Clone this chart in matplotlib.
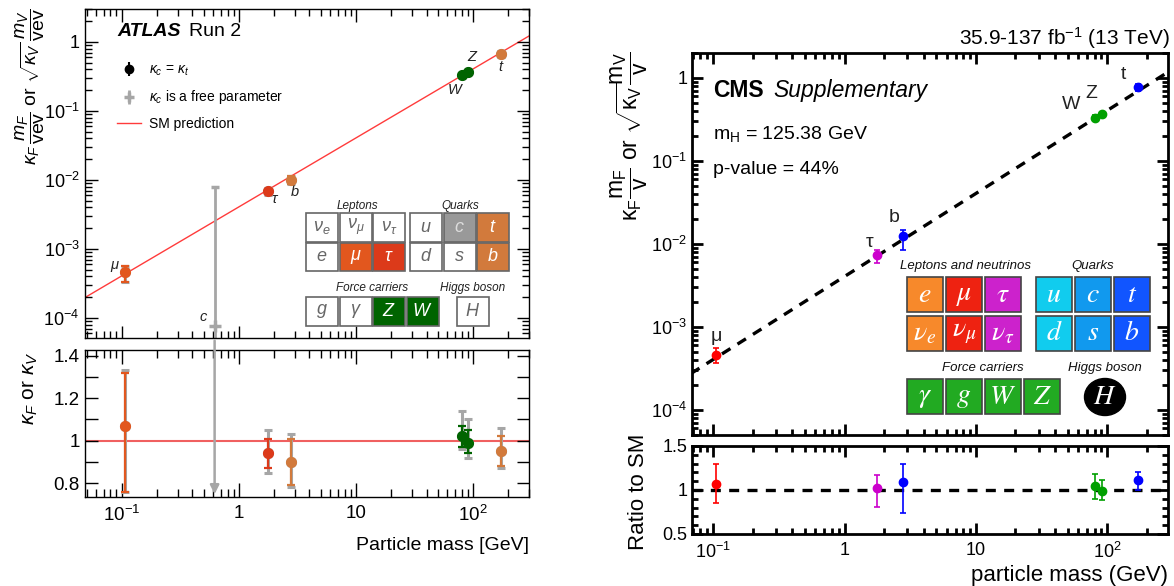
import numpy as np
import matplotlib
matplotlib.use('Agg')
import matplotlib.pyplot as plt
from matplotlib.patches import Rectangle, Ellipse
from matplotlib.ticker import FixedLocator, FixedFormatter, LogLocator, NullFormatter, MultipleLocator, FuncFormatter

plt.rcParams['font.family'] = ['Liberation Sans', 'DejaVu Sans']
plt.rcParams['mathtext.fontset'] = 'custom'
plt.rcParams['mathtext.rm'] = 'Liberation Sans'
plt.rcParams['mathtext.it'] = 'Liberation Sans:italic'
plt.rcParams['mathtext.bf'] = 'Liberation Sans:bold'

VEV = 246.22

# ---- ATLAS data (kappa_c = kappa_t fit, and kappa_c free fit) ----
atlas_mass = [0.1057, 1.777, 2.76, 80.38, 91.19, 172.5]
atlas_kappa = [1.07, 0.94, 0.90, 1.02, 0.99, 0.95]
atlas_lo = [0.76, 0.87, 0.79, 0.97, 0.94, 0.88]
atlas_hi = [1.32, 1.01, 1.01, 1.07, 1.05, 1.02]
atlas_free_lo = [0.76, 0.85, 0.78, 0.96, 0.92, 0.87]
atlas_free_hi = [1.33, 1.05, 1.03, 1.14, 1.10, 1.06]
atlas_vector = [False, False, False, True, True, False]
atlas_colors = ['#e2571e', '#dc3a1a', '#d27a3c', '#006400', '#006400', '#d27a3c']
atlas_names = [r'$\mu$', r'$\tau$', '$b$', '$W$', '$Z$', '$t$']
atlas_name_offset = [(-10, 6), (7, -8), (4, -12), (-7, -15), (4, 15), (0, -13)]
# charm quark, only in the free-parameter fit
c_mass = 0.62
c_val = 7.5e-5
c_lo = 1e-5
c_hi = 7.8e-3

# ---- CMS data ----
cms_mass = [0.1057, 1.777, 2.8, 80.38, 91.19, 172.5]
cms_ratio = [1.07, 1.02, 1.09, 1.04, 0.99, 1.11]
cms_lo = [0.85, 0.81, 0.74, 0.895, 0.89, 1.00]
cms_hi = [1.29, 1.17, 1.29, 1.18, 1.11, 1.21]
cms_vector = [False, False, False, True, True, False]
cms_colors = ['#ff0000', '#cc00cc', '#0000ff', '#00a000', '#00a000', '#0000ff']
cms_names = ['μ', 'τ', 'b', 'W', 'Z', 't']
cms_name_offset = [(0, 19), (-8, 13), (-9, 19), (-24, 13), (-11, 20), (-15, 13)]


def coupling(mass, k, vector):
    # reduced coupling shown in the upper panels
    m = np.array(mass)
    k = np.array(k)
    v = np.array(vector)
    return np.where(v, np.sqrt(k), k) * m / VEV


W, H = 1174, 586
fig = plt.figure(figsize=(W / 100, H / 100), dpi=100)


def px_axes(x0, y0, x1, y1):
    return fig.add_axes([x0 / W, 1 - y1 / H, (x1 - x0) / W, (y1 - y0) / H])


def style_x(ax, labels, fs, major, minor, lw):
    ax.set_xscale('log')
    ax.xaxis.set_major_locator(FixedLocator([0.1, 1, 10, 100]))
    ax.xaxis.set_minor_locator(LogLocator(base=10, subs=np.arange(2, 10), numticks=30))
    ax.xaxis.set_minor_formatter(NullFormatter())
    if labels:
        ax.xaxis.set_major_formatter(FixedFormatter(['$10^{-1}$', '1', '10', '$10^{2}$']))
    else:
        ax.xaxis.set_major_formatter(NullFormatter())
    ax.tick_params(which='both', direction='in', top=True, right=True, labelsize=fs, width=lw)
    ax.tick_params(which='major', length=major)
    ax.tick_params(which='minor', length=minor)
    ax.tick_params(axis='x', pad=6)
    for s in ax.spines.values():
        s.set_linewidth(lw)


def style_logy(ax):
    ax.set_yscale('log')
    ax.yaxis.set_major_locator(FixedLocator([1e-4, 1e-3, 1e-2, 1e-1, 1]))
    ax.yaxis.set_major_formatter(FixedFormatter(['$10^{-4}$', '$10^{-3}$', '$10^{-2}$', '$10^{-1}$', '1']))
    ax.yaxis.set_minor_locator(LogLocator(base=10, subs=np.arange(2, 10), numticks=30))
    ax.yaxis.set_minor_formatter(NullFormatter())


gfmt = FuncFormatter(lambda v, p: '%g' % round(v, 2))

# ================= ATLAS =================
ax_a = px_axes(84.5, 9, 529, 338)
ax_ar = px_axes(84.5, 349.6, 529, 497)
grey = '#a6a6a6'
xl_a = (0.048, 300)

sm_x = np.array([0.03, 500])
ax_a.plot(sm_x, sm_x / VEV, color='#ff3b3b', lw=1.0, zorder=1)

y_a = coupling(atlas_mass, atlas_kappa, atlas_vector)
y_a_lo = coupling(atlas_mass, atlas_lo, atlas_vector)
y_a_hi = coupling(atlas_mass, atlas_hi, atlas_vector)
y_af_lo = coupling(atlas_mass, atlas_free_lo, atlas_vector)
y_af_hi = coupling(atlas_mass, atlas_free_hi, atlas_vector)

for i in range(len(atlas_mass)):
    ax_a.errorbar([atlas_mass[i]], [y_a[i]], yerr=[[y_a[i] - y_af_lo[i]], [y_af_hi[i] - y_a[i]]],
                  fmt='o', color=grey, ms=7, lw=2.2, capsize=3, capthick=2.2, zorder=2)
    ax_a.errorbar([atlas_mass[i]], [y_a[i]], yerr=[[y_a[i] - y_a_lo[i]], [y_a_hi[i] - y_a[i]]],
                  fmt='o', color=atlas_colors[i], ms=7, lw=1.6, capsize=3, capthick=1.6, zorder=3)
    ax_a.annotate(atlas_names[i], (atlas_mass[i], y_a[i]), xytext=atlas_name_offset[i],
                  textcoords='offset pixels', ha='center', va='center', fontsize=10.5, color='#222222')

ax_a.errorbar([c_mass], [c_val], yerr=[[c_val - c_lo], [c_hi - c_val]], fmt='+', color=grey,
              ms=8, mew=2.5, lw=2, capsize=3, capthick=2, zorder=2)
ax_a.annotate('$c$', (c_mass, c_val), xytext=(-11, 9), textcoords='offset pixels',
              ha='center', va='center', fontsize=10.5, color='#222222')

style_x(ax_a, False, 13, 9, 5, 1.0)
style_logy(ax_a)
ax_a.set_xlim(*xl_a)
ax_a.set_ylim(5.1e-5, 3.0)

# legend
h1 = ax_a.errorbar([], [], yerr=[], fmt='o', color='black', ms=6, lw=1.5, capsize=3, capthick=1.5)
h2 = ax_a.errorbar([], [], yerr=[], fmt='+', color=grey, ms=7, mew=2.5, lw=2, capsize=3, capthick=2)
h3, = ax_a.plot([], [], color='#ff3b3b', lw=1.0)
ax_a.legend([h1, h2, h3], [r'$\kappa_c\,=\,\kappa_t$', r'$\kappa_c$ is a free parameter', 'SM prediction'],
            loc='upper left', bbox_to_anchor=(0.045, 0.875), frameon=False, fontsize=10,
            handlelength=1.7, labelspacing=0.75, handletextpad=0.6)

# ratio panel
ax_ar.axhline(1.0, color='#f06060', lw=1.5, zorder=1)
k_a = np.array(atlas_kappa)
for i in range(len(atlas_mass)):
    ax_ar.errorbar([atlas_mass[i]], [k_a[i]], yerr=[[k_a[i] - atlas_free_lo[i]], [atlas_free_hi[i] - k_a[i]]],
                   fmt='o', color=grey, ms=7, lw=2.2, capsize=3, capthick=2.2, zorder=2)
    ax_ar.errorbar([atlas_mass[i]], [k_a[i]], yerr=[[k_a[i] - atlas_lo[i]], [atlas_hi[i] - k_a[i]]],
                   fmt='o', color=atlas_colors[i], ms=7, lw=1.6, capsize=3, capthick=1.6, zorder=3)
ax_ar.annotate('', xy=(c_mass, 0.0), xycoords=('data', 'axes fraction'),
               xytext=(c_mass, 1.08), textcoords=('data', 'axes fraction'),
               arrowprops=dict(arrowstyle='-|>', color=grey, lw=1.8, mutation_scale=13),
               annotation_clip=False)
style_x(ax_ar, True, 13.5, 10, 5.5, 1.0)
ax_ar.set_xlim(*xl_a)
ax_ar.set_ylim(0.735, 1.428)
ax_ar.yaxis.set_major_locator(MultipleLocator(0.2))
ax_ar.yaxis.set_minor_locator(MultipleLocator(0.1))
ax_ar.yaxis.set_major_formatter(gfmt)
ax_ar.tick_params(axis='y', which='both', length=9)
ax_ar.set_xlabel('Particle mass [GeV]', fontsize=14, ha='right', x=1.0, labelpad=8)

fig.text(30 / W, 1 - 8 / H,
         r'$\kappa_F\,\dfrac{m_F}{\mathrm{vev}}$ or $\sqrt{\kappa_V}\,\dfrac{m_V}{\mathrm{vev}}$',
         rotation=90, ha='center', va='top', fontsize=14)
fig.text(30 / W, 1 - 352 / H, r'$\kappa_F$ or $\kappa_V$', rotation=90, ha='center', va='top', fontsize=15)

# ================= CMS =================
ax_c = px_axes(692, 53, 1168, 435)
ax_cr = px_axes(692, 446, 1168, 534)
xl_c = (0.069, 290)

ax_c.plot(sm_x, sm_x / VEV, color='black', lw=2.4, ls=(0, (3, 2.5)), zorder=1)
y_c = coupling(cms_mass, cms_ratio, cms_vector)
y_c_lo = coupling(cms_mass, cms_lo, cms_vector)
y_c_hi = coupling(cms_mass, cms_hi, cms_vector)
for i in range(len(cms_mass)):
    ax_c.errorbar([cms_mass[i]], [y_c[i]], yerr=[[y_c[i] - y_c_lo[i]], [y_c_hi[i] - y_c[i]]],
                  fmt='o', color=cms_colors[i], ms=6, lw=1.2, capsize=2.5, capthick=1.2, zorder=3)
    ax_c.annotate(cms_names[i], (cms_mass[i], y_c[i]), xytext=cms_name_offset[i],
                  textcoords='offset pixels', ha='center', va='center', fontsize=14, color='#222222')
style_x(ax_c, False, 13, 8, 4, 2.0)
style_logy(ax_c)
ax_c.set_xlim(*xl_c)
ax_c.set_ylim(5e-5, 2.0)

ax_cr.axhline(1.0, color='black', lw=2.4, ls=(0, (3, 2.5)), zorder=1)
for i in range(len(cms_mass)):
    ax_cr.errorbar([cms_mass[i]], [cms_ratio[i]], yerr=[[cms_ratio[i] - cms_lo[i]], [cms_hi[i] - cms_ratio[i]]],
                   fmt='o', color=cms_colors[i], ms=6, lw=1.2, capsize=2.5, capthick=1.2, zorder=3)
style_x(ax_cr, True, 13, 8, 4, 2.0)
ax_cr.set_xlim(*xl_c)
ax_cr.set_ylim(0.5, 1.5)
ax_cr.yaxis.set_major_locator(MultipleLocator(0.5))
ax_cr.yaxis.set_minor_locator(MultipleLocator(0.1))
ax_cr.yaxis.set_major_formatter(gfmt)
ax_cr.set_xlabel('particle mass (GeV)', fontsize=16, ha='right', x=1.0, labelpad=2)

fig.text(629 / W, 1 - 52 / H,
         r'$\mathrm{\kappa_F\dfrac{m_F}{v}}$ or $\mathrm{\sqrt{\kappa_V}\dfrac{m_V}{v}}$',
         rotation=90, ha='center', va='top', fontsize=16.5)
fig.text(638 / W, 1 - 492 / H, 'Ratio to SM', rotation=90, ha='center', va='center', fontsize=16)

# ================= overlay: texts and particle tables (figure pixels) =================
ov = fig.add_axes([0, 0, 1, 1], zorder=5)
ov.set_xlim(0, W)
ov.set_ylim(H, 0)
ov.axis('off')

ov.text(117, 36, 'ATLAS', fontsize=14, fontweight='bold', style='italic', va='baseline')
ov.text(189, 36, 'Run 2', fontsize=14, va='baseline')

ov.text(713, 97, 'CMS', fontsize=16.5, fontweight='bold', va='baseline')
ov.text(773, 97, 'Supplementary', fontsize=16.5, style='italic', va='baseline')
ov.text(713, 139, r'm$_\mathrm{H}$ = 125.38 GeV', fontsize=14, va='baseline')
ov.text(713, 174, 'p-value = 44%', fontsize=14, va='baseline')
ov.text(1170, 45, r'35.9-137 fb$^{\mathrm{-1}}$ (13 TeV)', fontsize=15, ha='right', va='baseline')


def draw_grid(x0, y0, w, h, dx, dy, labels, fills, tcolors, edge, fs, mfont):
    for r, row in enumerate(labels):
        for c, lab in enumerate(row):
            x = x0 + c * dx
            y = y0 + r * dy
            ov.add_patch(Rectangle((x, y), w, h, facecolor=fills[r][c], edgecolor=edge, lw=1.2))
            ov.text(x + w / 2, y + h / 2, lab, ha='center', va='center', color=tcolors[r][c],
                    fontsize=fs, math_fontfamily=mfont)


# ATLAS particle table
a_lep = [[r'$\nu_e$', r'$\nu_\mu$', r'$\nu_\tau$'], ['$e$', r'$\mu$', r'$\tau$']]
a_lep_fill = [['white', 'white', 'white'], ['white', '#e2571e', '#dc3a1a']]
a_lep_txt = [['#666666'] * 3, ['#666666', 'white', 'white']]
a_qrk = [['$u$', '$c$', '$t$'], ['$d$', '$s$', '$b$']]
a_qrk_fill = [['white', '#999999', '#d27a3c'], ['white', 'white', '#d27a3c']]
a_qrk_txt = [['#666666', '#dddddd', 'white'], ['#666666', '#666666', 'white']]
a_bos = [['$g$', r'$\gamma$', '$Z$', '$W$']]
a_bos_fill = [['white', 'white', '#006400', '#006400']]
a_bos_txt = [['#666666', '#666666', 'white', 'white']]

draw_grid(306, 213, 32, 28.5, 33.5, 29.5, a_lep, a_lep_fill, a_lep_txt, '#666666', 13, 'custom')
draw_grid(410, 213, 32, 28.5, 33.5, 29.5, a_qrk, a_qrk_fill, a_qrk_txt, '#666666', 13, 'custom')
draw_grid(306, 297, 32, 28.5, 33.5, 29.5, a_bos, a_bos_fill, a_bos_txt, '#666666', 13, 'custom')
draw_grid(457, 297, 32, 28.5, 33.5, 29.5, [['$H$']], [['white']], [['#666666']], '#666666', 13, 'custom')
for tx, ty, t in [(357, 206, 'Leptons'), (460, 206, 'Quarks'), (372, 288, 'Force carriers'),
                  (473, 288, 'Higgs boson')]:
    ov.text(tx, ty, t, ha='center', va='center', fontsize=8.5, style='italic', color='#222222')

# CMS particle table
c_lep = [['$e$', r'$\mu$', r'$\tau$'], [r'$\nu_e$', r'$\nu_\mu$', r'$\nu_\tau$']]
c_lep_fill = [['#f7892b', '#ee2211', '#cc22cc'], ['#f7892b', '#ee2211', '#cc22cc']]
c_qrk = [['$u$', '$c$', '$t$'], ['$d$', '$s$', '$b$']]
c_qrk_fill = [['#11ccee', '#1199ee', '#1155ff'], ['#11ccee', '#1199ee', '#1155ff']]
c_bos = [[r'$\gamma$', '$g$', '$W$', '$Z$']]
c_bos_fill = [['#22aa22'] * 4]
wt = [['white'] * 4] * 2

draw_grid(907, 277, 36, 35, 39, 39, c_lep, c_lep_fill, wt, '#444444', 20, 'stix')
draw_grid(1036, 277, 36, 35, 39, 39, c_qrk, c_qrk_fill, wt, '#444444', 20, 'stix')
draw_grid(907, 379, 36, 35, 39, 39, c_bos, c_bos_fill, wt, '#444444', 20, 'stix')
ov.add_patch(Ellipse((1105, 397), 41, 37, facecolor='black', edgecolor='black'))
ov.text(1105, 397, '$H$', ha='center', va='center', color='white', fontsize=20, math_fontfamily='stix')
for tx, ty, t in [(966, 266, 'Leptons and neutrinos'), (1093, 266, 'Quarks'), (983, 368, 'Force carriers'),
                  (1105, 368, 'Higgs boson')]:
    ov.text(tx, ty, t, ha='center', va='center', fontsize=9.5, style='italic', color='#111111')

fig.savefig('out.png', dpi=100)
